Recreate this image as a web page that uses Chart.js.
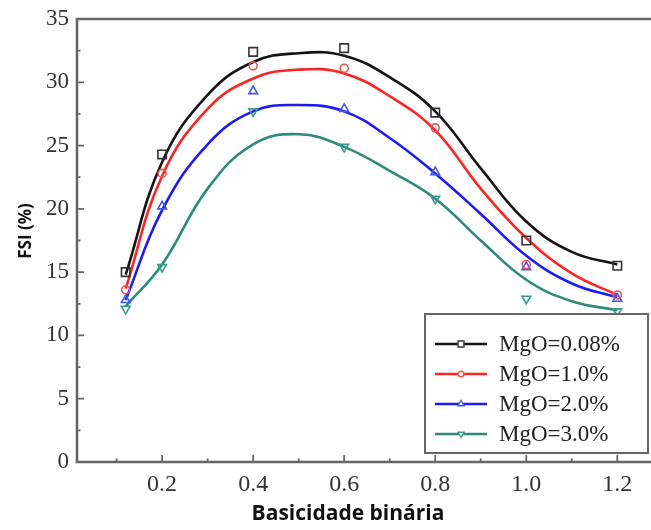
<!DOCTYPE html>
<html>
<head>
<meta charset="utf-8">
<script src="https://cdn.jsdelivr.net/npm/chart.js@4.4.1/dist/chart.umd.min.js"></script>
<style>
  html, body { margin: 0; padding: 0; background: #fff; overflow: hidden; }
  #wrap { width: 651px; height: 530px; position: relative; }
</style>
</head>
<body>
<div id="wrap"><canvas id="c" width="651" height="530"></canvas></div>
<script>
// Measured FSI (%) against binary basicity, one series per MgO content
const basicity  = [0.12, 0.2, 0.4, 0.6, 0.8, 1.0, 1.2];
const fsiMgO008 = [15.0, 24.3, 32.4, 32.7, 27.6, 17.5, 15.5];
const fsiMgO10  = [13.6, 22.8, 31.3, 31.1, 26.4, 15.6, 13.2];
const fsiMgO20  = [12.8, 20.2, 29.3, 27.9, 22.9, 15.4, 12.9];
const fsiMgO30  = [12.1, 15.4, 27.7, 24.9, 20.8, 12.9, 11.9];

// Fitted trend curves sampled along the basicity axis
const fitBasicity = [0.12, 0.2, 0.3, 0.4, 0.5, 0.6, 0.7, 0.8, 0.9, 1.0, 1.1, 1.2];
const fitMgO008 = [14.8, 23.7, 29.0, 31.6, 32.3, 32.1, 30.4, 27.7, 23.2, 19.0, 16.6, 15.6];
const fitMgO10  = [13.7, 22.6, 27.9, 30.3, 31.0, 30.7, 28.9, 26.2, 21.6, 17.7, 14.9, 13.2];
const fitMgO20  = [12.8, 19.9, 25.1, 27.7, 28.2, 27.7, 25.6, 22.8, 19.6, 16.3, 14.1, 13.0];
const fitMgO30  = [12.3, 15.6, 21.6, 25.1, 25.9, 24.9, 23.0, 20.8, 17.5, 14.4, 12.7, 12.0];

const seriesLabels = ['MgO=0.08%', 'MgO=1.0%', 'MgO=2.0%', 'MgO=3.0%'];

// Axis ticks
const xTickValues = [0.2, 0.4, 0.6, 0.8, 1.0, 1.2];
const xTickLabels = ['0.2', '0.4', '0.6', '0.8', '1.0', '1.2'];
const xMinorTicks = [0.1, 0.3, 0.5, 0.7, 0.9, 1.1];
const yTickValues = [0, 5, 10, 15, 20, 25, 30, 35];
const yTickLabels = ['0', '5', '10', '15', '20', '25', '30', '35'];
const yMinorTicks = [2.5, 7.5, 12.5, 17.5, 22.5, 27.5, 32.5];

const xTitle = 'Basicidade binária';
const yTitle = 'FSI (%)';

const lineColors   = ['#141414', '#ff2424', '#1c1cf2', '#2e8b78'];
const markerColors = ['#333333', '#e25858', '#4656e6', '#3a9a8c'];
const markerStyles = [
  { pointStyle: 'rect',     radius: 6,   rotation: 0 },
  { pointStyle: 'circle',   radius: 4,   rotation: 0 },
  { pointStyle: 'triangle', radius: 5,   rotation: 0 },
  { pointStyle: 'triangle', radius: 5,   rotation: 180 }
];

const measured = [fsiMgO008, fsiMgO10, fsiMgO20, fsiMgO30];
const fitted   = [fitMgO008, fitMgO10, fitMgO20, fitMgO30];

const toXY = (xs, ys) => xs.map((x, i) => ({ x: x, y: ys[i] }));

const datasets = [];
fitted.forEach((ys, i) => {
  datasets.push({
    label: seriesLabels[i] + ' fit',
    data: toXY(fitBasicity, ys),
    showLine: true,
    borderColor: lineColors[i],
    borderWidth: 2.6,
    pointRadius: 0,
    tension: 0.42,
    fill: false,
    order: 2
  });
});
measured.forEach((ys, i) => {
  datasets.push({
    label: seriesLabels[i],
    data: toXY(basicity, ys),
    showLine: false,
    pointStyle: markerStyles[i].pointStyle,
    pointRadius: markerStyles[i].radius,
    pointRotation: markerStyles[i].rotation,
    pointBorderWidth: 1.6,
    pointBorderColor: markerColors[i],
    pointBackgroundColor: 'rgba(255,255,255,0)',
    order: 1
  });
});

const AXIS_COLOR = '#666';

// Frame, inward tick marks and axis titles
const framePlugin = {
  id: 'frame',
  beforeDatasetsDraw(chart) {
    const { ctx, chartArea: a, scales: { x, y } } = chart;
    ctx.save();
    ctx.strokeStyle = AXIS_COLOR;
    ctx.lineWidth = 2.6;
    ctx.beginPath();
    ctx.moveTo(a.right + 2, a.top);
    ctx.lineTo(a.left, a.top);
    ctx.lineTo(a.left, a.bottom);
    ctx.lineTo(a.right + 2, a.bottom);
    ctx.stroke();

    ctx.lineWidth = 1.8;
    ctx.beginPath();
    xTickValues.forEach(v => {
      const px = x.getPixelForValue(v);
      ctx.moveTo(px, a.bottom); ctx.lineTo(px, a.bottom - 7);
    });
    xMinorTicks.forEach(v => {
      const px = x.getPixelForValue(v);
      ctx.moveTo(px, a.bottom); ctx.lineTo(px, a.bottom - 3.5);
    });
    yTickValues.forEach(v => {
      if (v === 0 || v === 35) return;
      const py = y.getPixelForValue(v);
      ctx.moveTo(a.left, py); ctx.lineTo(a.left + 7, py);
    });
    yMinorTicks.forEach(v => {
      const py = y.getPixelForValue(v);
      ctx.moveTo(a.left, py); ctx.lineTo(a.left + 3.5, py);
    });
    ctx.stroke();

    ctx.fillStyle = '#111';
    ctx.textAlign = 'center';
    ctx.textBaseline = 'middle';
    ctx.font = 'bold 21px "Open Sans"';
    ctx.fillText(xTitle, 348, 514);
    ctx.translate(26, 231);
    ctx.rotate(-Math.PI / 2);
    ctx.font = 'bold 17px "Open Sans"';
    ctx.fillText(yTitle, 0, 0);
    ctx.restore();
  }
};

// Boxed legend inside the plot area
const legendPlugin = {
  id: 'boxLegend',
  afterDraw(chart) {
    const { ctx } = chart;
    const box = { left: 425, top: 314, right: 648, bottom: 453 };
    ctx.save();
    ctx.fillStyle = '#fff';
    ctx.fillRect(box.left, box.top, box.right - box.left, box.bottom - box.top);
    ctx.strokeStyle = AXIS_COLOR;
    ctx.lineWidth = 2;
    ctx.strokeRect(box.left, box.top, box.right - box.left, box.bottom - box.top);

    ctx.font = '23px "Liberation Serif"';
    ctx.textAlign = 'left';
    ctx.textBaseline = 'middle';
    seriesLabels.forEach((label, i) => {
      const cy = 344 + i * 30;
      ctx.strokeStyle = lineColors[i];
      ctx.lineWidth = 2.6;
      ctx.beginPath();
      ctx.moveTo(435, cy); ctx.lineTo(487, cy);
      ctx.stroke();
      ctx.fillStyle = '#fff';
      ctx.strokeStyle = markerColors[i];
      ctx.lineWidth = 1.4;
      Chart.helpers.drawPoint(ctx, {
        pointStyle: markerStyles[i].pointStyle,
        radius: markerStyles[i].radius * 0.7,
        rotation: markerStyles[i].rotation,
        borderWidth: 1.4
      }, 461, cy);
      ctx.fillStyle = '#222';
      ctx.fillText(label, 499, cy + 1);
    });
    ctx.restore();
  }
};

new Chart(document.getElementById('c'), {
  type: 'scatter',
  data: { datasets: datasets },
  options: {
    responsive: false,
    animation: false,
    layout: { autoPadding: false, padding: { top: 19, right: 0, left: 0, bottom: 0 } },
    plugins: { legend: { display: false }, tooltip: { enabled: false } },
    scales: {
      x: {
        type: 'linear',
        min: 0.013,
        max: 1.274,
        grid: { display: false, drawTicks: false },
        border: { display: false },
        afterBuildTicks: s => { s.ticks = xTickValues.map(v => ({ value: v })); },
        afterFit: s => { s.height = 68; s.paddingLeft = 0; s.paddingRight = 0; },
        ticks: {
          padding: 8,
          autoSkip: false,
          maxRotation: 0,
          color: '#333',
          font: { family: 'Liberation Serif', size: 24 },
          callback: v => xTickLabels[xTickValues.indexOf(v)]
        }
      },
      y: {
        type: 'linear',
        min: 0,
        max: 35,
        grid: { display: false, drawTicks: false },
        border: { display: false },
        afterBuildTicks: s => { s.ticks = yTickValues.map(v => ({ value: v })); },
        afterFit: s => { s.width = 77; s.paddingTop = 0; s.paddingBottom = 0; },
        ticks: {
          padding: 8,
          autoSkip: false,
          color: '#333',
          font: { family: 'Liberation Serif', size: 23 },
          callback: v => yTickLabels[yTickValues.indexOf(v)]
        }
      }
    }
  },
  plugins: [framePlugin, legendPlugin]
});
</script>
</body>
</html>
